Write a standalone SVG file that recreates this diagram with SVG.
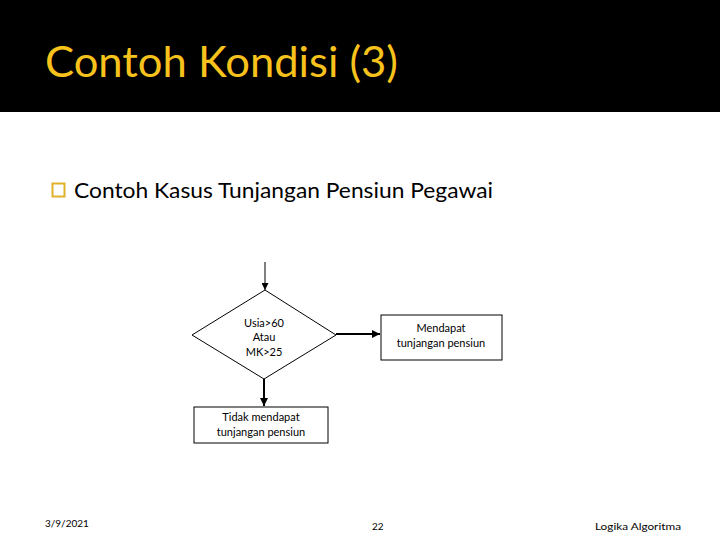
<svg xmlns="http://www.w3.org/2000/svg" width="720" height="540" viewBox="0 0 720 540">
<defs>
<marker id="ah" viewBox="0 0 10 10" refX="10" refY="5" markerWidth="4" markerHeight="4" orient="auto" markerUnits="strokeWidth"><path d="M0,0 L10,5 L0,10 z" fill="#000"/></marker>
<marker id="ah1" viewBox="0 0 10 10" refX="10" refY="5" markerWidth="7" markerHeight="7" orient="auto" markerUnits="strokeWidth"><path d="M0,0 L10,5 L0,10 z" fill="#000"/></marker>
</defs>
<style>
.shape{fill:#fff;stroke:#000;stroke-width:1}
.lbl{font-family:Lato,"Open Sans",sans-serif;font-size:11px;fill:#000;text-anchor:middle}
.foot{font-family:Lato,"Open Sans",sans-serif;font-size:10px;fill:#000}
.edge{stroke:#000;fill:none}
</style>
<rect x="0" y="0" width="720" height="540" fill="#fff"/>
<rect x="0" y="0" width="720" height="112" fill="#000"/>
<text x="45" y="77" font-family="Lato,'Open Sans',sans-serif" font-size="42" fill="#F8C21C" textLength="353" lengthAdjust="spacingAndGlyphs">Contoh Kondisi (3)</text>
<rect x="52.5" y="183.5" width="12" height="13" fill="none" stroke="#E0B12A" stroke-width="2"/>
<text x="74" y="198" font-family="Lato,'Open Sans',sans-serif" font-size="21" fill="#000" textLength="419" lengthAdjust="spacingAndGlyphs">Contoh Kasus Tunjangan Pensiun Pegawai</text>
<g id="connectors">
<line class="edge" x1="265" y1="262" x2="265" y2="290" stroke-width="1" marker-end="url(#ah1)"/>
<line class="edge" x1="336" y1="334" x2="380" y2="334" stroke-width="2" marker-end="url(#ah)"/>
<line class="edge" x1="264" y1="379" x2="264" y2="406" stroke-width="2" marker-end="url(#ah)"/>
</g>
<g id="decision">
<polygon class="shape" points="265,290 336,335 264,379 192,335"/>
<text class="lbl" x="264" y="327">Usia&gt;60</text>
<text class="lbl" x="264" y="341">Atau</text>
<text class="lbl" x="264" y="356">MK&gt;25</text>
</g>
<g id="yes">
<rect class="shape" x="381" y="315" width="121" height="45"/>
<text class="lbl" x="441" y="332">Mendapat</text>
<text class="lbl" x="441" y="347">tunjangan pensiun</text>
</g>
<g id="no">
<rect class="shape" x="194" y="407" width="134" height="36"/>
<text class="lbl" x="261" y="421">Tidak mendapat</text>
<text class="lbl" x="261" y="436">tunjangan pensiun</text>
</g>
<text class="foot" x="45" y="527">3/9/2021</text>
<text class="foot" x="372" y="530">22</text>
<text class="foot" x="595" y="530" font-size="11" textLength="86" lengthAdjust="spacingAndGlyphs">Logika Algoritma</text>
</svg>
